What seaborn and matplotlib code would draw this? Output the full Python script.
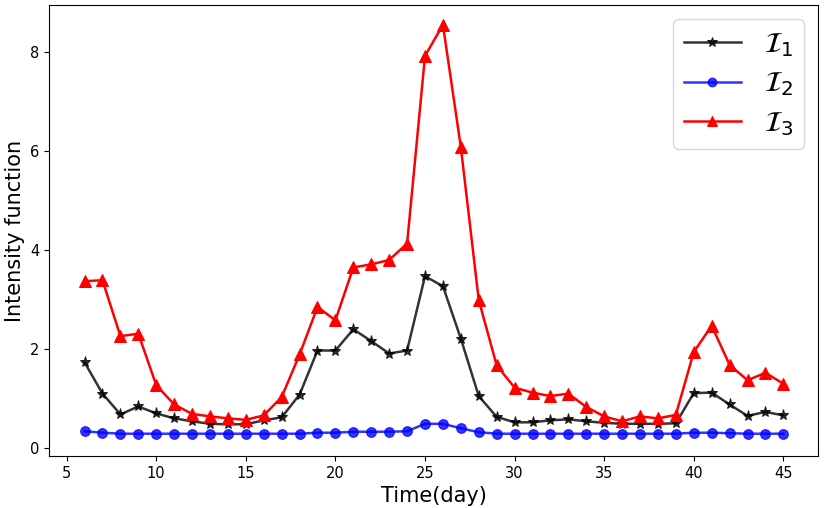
import numpy as np
import pandas as pd
import matplotlib
matplotlib.use("Agg")
import matplotlib.pyplot as plt
import seaborn as sns

days = list(range(6, 46))
I1 = [1.72, 1.09, 0.67, 0.83, 0.69, 0.59, 0.53, 0.48, 0.47, 0.47, 0.55, 0.61, 1.07, 1.96, 1.96,
      2.39, 2.15, 1.90, 1.96, 3.46, 3.26, 2.20, 1.04, 0.62, 0.51, 0.51, 0.55, 0.57, 0.53, 0.50,
      0.48, 0.48, 0.48, 0.49, 1.10, 1.11, 0.87, 0.64, 0.72, 0.65]
I2 = [0.33, 0.30, 0.28, 0.28, 0.28, 0.28, 0.28, 0.28, 0.28, 0.28, 0.28, 0.28, 0.28, 0.30, 0.30,
      0.32, 0.32, 0.32, 0.33, 0.48, 0.48, 0.39, 0.31, 0.28, 0.28, 0.28, 0.28, 0.28, 0.28, 0.28,
      0.28, 0.28, 0.28, 0.28, 0.30, 0.30, 0.29, 0.28, 0.28, 0.28]
I3 = [3.36, 3.38, 2.25, 2.30, 1.26, 0.87, 0.68, 0.63, 0.59, 0.56, 0.65, 1.02, 1.88, 2.84, 2.57,
      3.64, 3.70, 3.79, 4.12, 7.91, 8.54, 6.07, 2.98, 1.66, 1.21, 1.11, 1.04, 1.09, 0.82, 0.63,
      0.53, 0.63, 0.59, 0.66, 1.93, 2.46, 1.67, 1.36, 1.51, 1.29]
labels = [r"$\mathcal{I}_1$", r"$\mathcal{I}_2$", r"$\mathcal{I}_3$"]

df = pd.DataFrame({"day": days, "I1": I1, "I2": I2, "I3": I3})

fig, ax = plt.subplots(figsize=(8.31, 5.08), dpi=100)
fig.subplots_adjust(left=0.0593, right=0.9847, top=0.9902, bottom=0.1024)

sns.lineplot(data=df, x="day", y="I1", ax=ax, color="black", alpha=0.8, marker="*",
             markersize=8, linewidth=1.8, label=labels[0], markeredgecolor="black")
sns.lineplot(data=df, x="day", y="I2", ax=ax, color="blue", alpha=0.8, marker="o",
             markersize=7, linewidth=1.8, label=labels[1], markeredgecolor="blue")
sns.lineplot(data=df, x="day", y="I3", ax=ax, color="red", marker="^",
             markersize=8, linewidth=1.8, label=labels[2], markeredgecolor="red")

ax.set_xlim(4.03, 46.95)
ax.set_ylim(-0.17, 8.94)
ax.set_xlabel("Time(day)", fontsize=15)
ax.set_ylabel("Intensity function", fontsize=15)
ax.set_xticks([5, 10, 15, 20, 25, 30, 35, 40, 45])
ax.set_yticks([0, 2, 4, 6, 8])
ax.tick_params(labelsize=10.5)
ax.legend(fontsize=20.5, loc="upper right", labelspacing=0.38, borderpad=0.38,
          markerscale=0.9)

fig.savefig("out.png", dpi=100)
